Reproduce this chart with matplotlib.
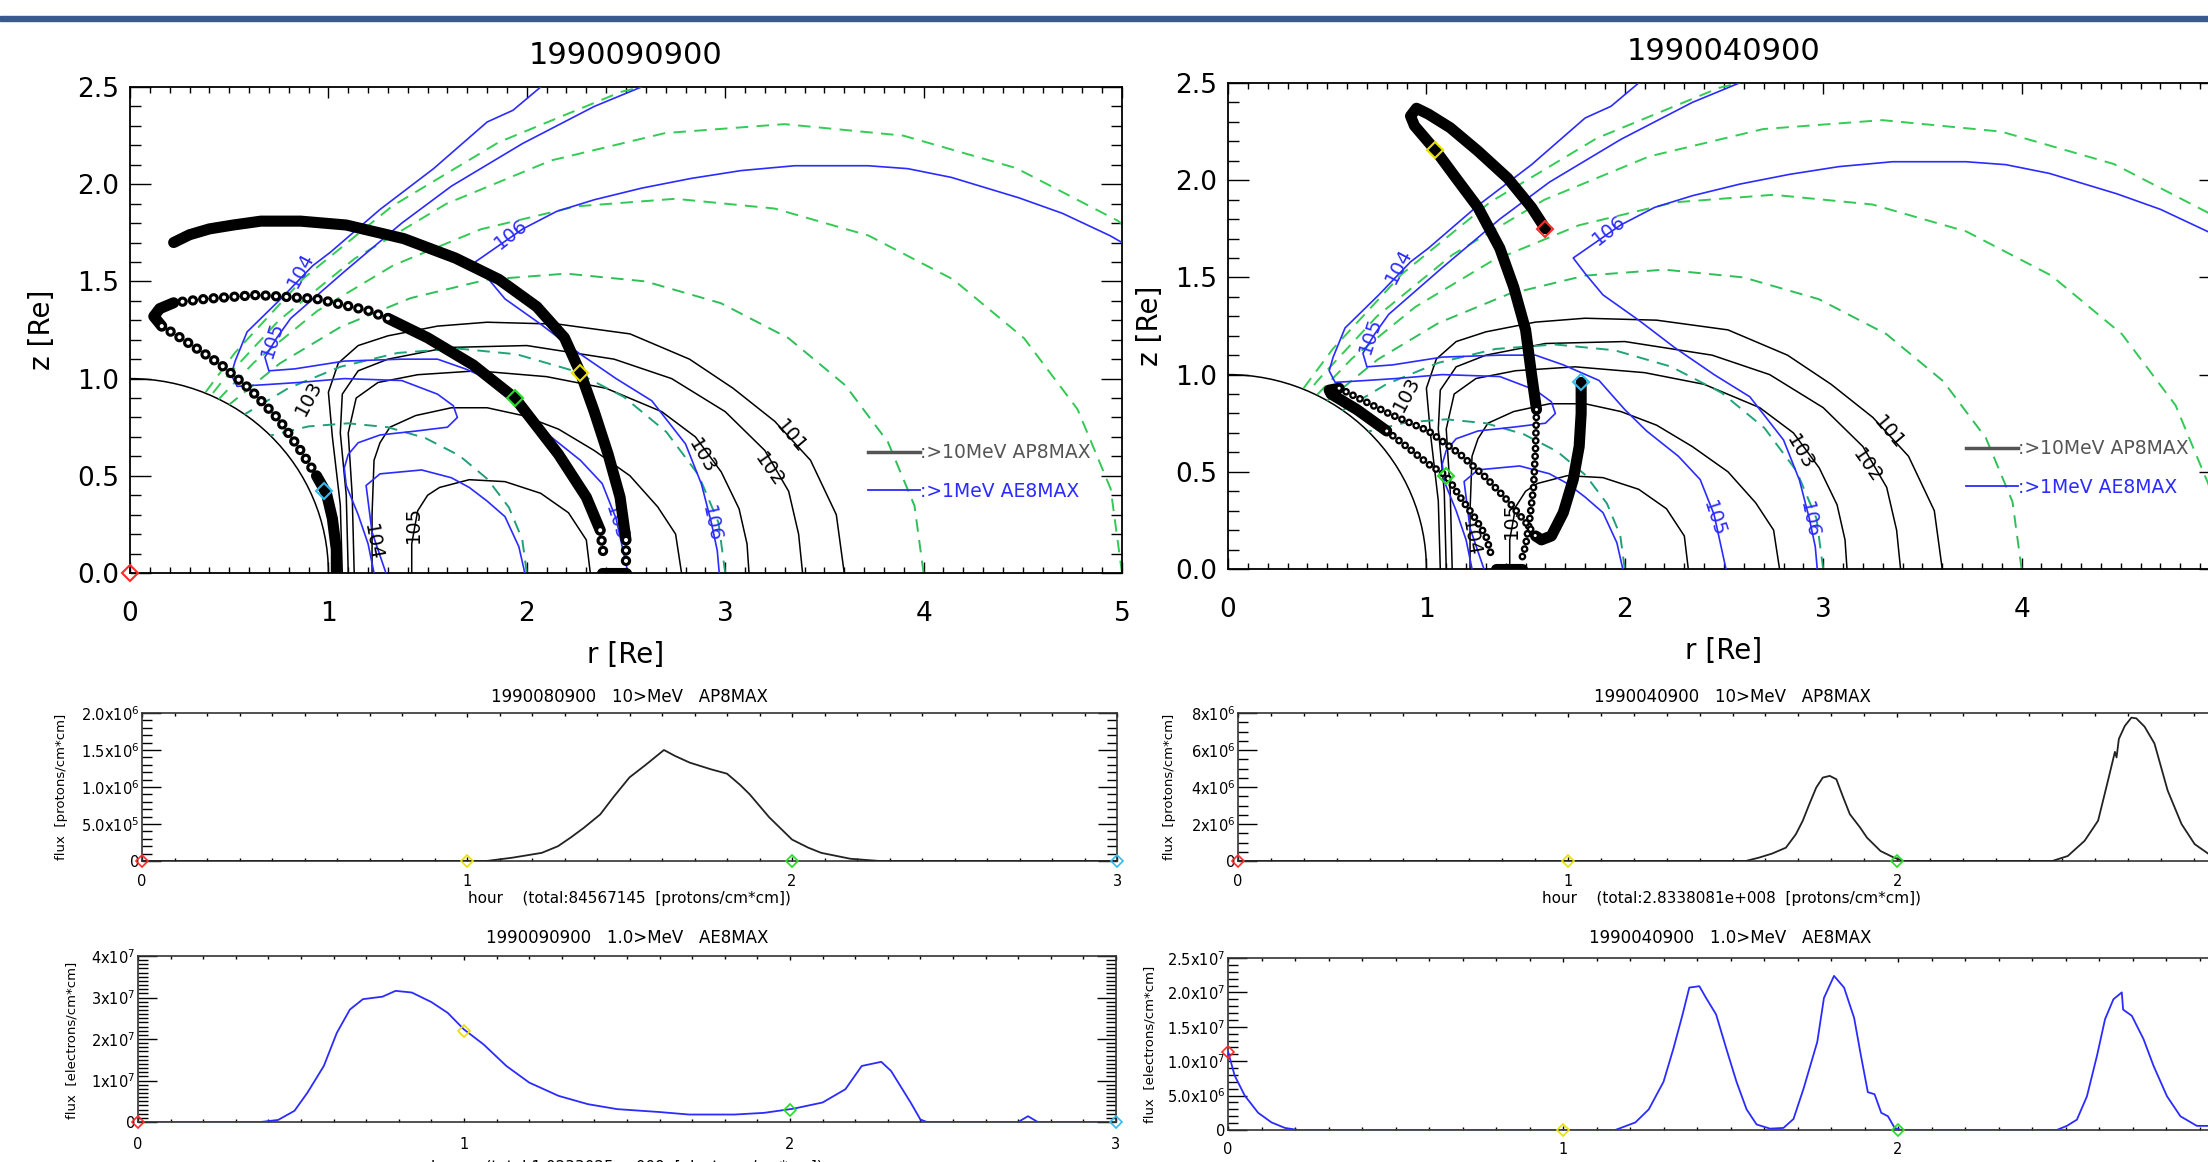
import matplotlib
matplotlib.use("Agg")
import matplotlib.pyplot as plt
from matplotlib.lines import Line2D
from matplotlib.patches import Arc, Rectangle
from matplotlib.ticker import MultipleLocator, FormatStrFormatter

W, H = 2208, 1162
plt.rcParams['font.family'] = ['DejaVu Sans']
plt.rcParams['lines.scale_dashes'] = False

# ---------------- orbit plane panels (r, z in Re) ----------------
title_a = "1990090900"
title_b = "1990040900"

# AP8MAX >10MeV proton flux contours
ap8_101 = [(1.07, 0.0), (1.06, 0.35), (1.02, 0.7), (1.0, 0.93), (1.05, 1.08), (1.15, 1.17), (1.3, 1.22),
           (1.55, 1.27), (1.8, 1.29), (2.16, 1.28), (2.52, 1.23), (2.82, 1.1), (3.04, 0.95), (3.25, 0.78),
           (3.43, 0.58), (3.56, 0.3), (3.6, 0.0)]
ap8_102 = [(1.1, 0.0), (1.09, 0.4), (1.06, 0.72), (1.07, 0.92), (1.15, 1.04), (1.3, 1.1), (1.6, 1.16),
           (2.0, 1.17), (2.44, 1.1), (2.73, 1.0), (3.0, 0.83), (3.2, 0.63), (3.32, 0.42), (3.37, 0.2), (3.39, 0.0)]
ap8_103 = [(1.13, 0.0), (1.12, 0.4), (1.1, 0.72), (1.14, 0.9), (1.25, 0.98), (1.45, 1.02), (1.75, 1.04),
           (2.1, 1.01), (2.4, 0.95), (2.68, 0.83), (2.85, 0.7), (2.98, 0.52), (3.07, 0.33), (3.11, 0.15), (3.12, 0.0)]
ap8_104 = [(1.22, 0.0), (1.22, 0.3), (1.23, 0.58), (1.26, 0.67), (1.31, 0.75), (1.44, 0.81), (1.62, 0.85),
           (1.8, 0.85), (1.98, 0.81), (2.16, 0.74), (2.34, 0.63), (2.52, 0.5), (2.66, 0.34), (2.75, 0.2), (2.78, 0.0)]
ap8_105 = [(1.42, 0.0), (1.42, 0.15), (1.45, 0.32), (1.5, 0.4), (1.56, 0.44), (1.71, 0.48), (1.89, 0.47),
           (2.07, 0.41), (2.21, 0.31), (2.3, 0.17), (2.32, 0.0)]

# AE8MAX >1MeV electron flux contours
ae8_104 = [(2.14, 2.56), (1.93, 2.38), (1.8, 2.32), (1.53, 2.08), (1.26, 1.87), (1.01, 1.65), (0.92, 1.58),
           (0.76, 1.41), (0.59, 1.24), (0.53, 1.09), (0.51, 1.02), (0.54, 0.96), (0.7, 0.97), (0.85, 0.98),
           (1.08, 1.0), (1.37, 0.99), (1.55, 0.92), (1.63, 0.86), (1.65, 0.8), (1.6, 0.75), (1.44, 0.73),
           (1.26, 0.71), (1.15, 0.67), (1.1, 0.61), (1.08, 0.54), (1.09, 0.45), (1.15, 0.3), (1.2, 0.15), (1.23, 0.0)]
ae8_105 = [(2.72, 2.56), (2.34, 2.4), (1.98, 2.21), (1.62, 1.99), (1.37, 1.8), (1.08, 1.55), (0.81, 1.31),
           (0.74, 1.21), (0.68, 1.11), (0.7, 1.04), (0.83, 1.05), (1.08, 1.09), (1.37, 1.1), (1.55, 1.1),
           (1.69, 1.05), (1.87, 0.97), (2.0, 0.82), (2.11, 0.71), (2.27, 0.58), (2.38, 0.46), (2.45, 0.28), (2.51, 0.0)]
ae8_106 = [(5.0, 1.7), (4.94, 1.735), (4.7, 1.85), (4.48, 1.93), (4.14, 2.035), (3.92, 2.08), (3.72, 2.095),
           (3.35, 2.095), (3.08, 2.07), (2.83, 2.03), (2.58, 1.98), (2.34, 1.92), (2.15, 1.86), (1.98, 1.77),
           (1.74, 1.6), (1.8, 1.52), (1.89, 1.41), (2.07, 1.28), (2.25, 1.14), (2.45, 1.0), (2.63, 0.886),
           (2.8, 0.664), (2.88, 0.458), (2.93, 0.26), (2.96, 0.115), (2.97, 0.0)]
ae8_105_inner = [(1.29, 0.0), (1.22, 0.21), (1.19, 0.45), (1.26, 0.51), (1.47, 0.53), (1.62, 0.49),
                 (1.71, 0.44), (1.8, 0.37), (1.89, 0.29), (1.96, 0.135), (1.99, 0.0)]

# dipole field lines (green dashed), L = 2 ... 7
dip_L2 = [(2.0, 0.0), (1.977, 0.173), (1.91, 0.337), (1.802, 0.483), (1.66, 0.604), (1.489, 0.694),
          (1.299, 0.75), (1.099, 0.77), (0.899, 0.754), (0.707, 0.707)]
dip_L3 = [(3.0, 0.0), (2.966, 0.26), (2.865, 0.505), (2.704, 0.725), (2.489, 0.906), (2.233, 1.041),
          (1.949, 1.125), (1.649, 1.155), (1.349, 1.132), (1.061, 1.061), (0.797, 0.95), (0.577, 0.816)]
dip_L4 = [(4.0, 0.0), (3.954, 0.346), (3.82, 0.674), (3.605, 0.966), (3.319, 1.208), (2.978, 1.388),
          (2.598, 1.5), (2.199, 1.54), (1.798, 1.509), (1.414, 1.414), (1.062, 1.266), (0.755, 1.078), (0.5, 0.866)]
dip_L5 = [(5.0, 0.0), (4.943, 0.433), (4.776, 0.842), (4.506, 1.208), (4.149, 1.51), (3.722, 1.736),
          (3.248, 1.875), (2.749, 1.925), (2.248, 1.886), (1.768, 1.768), (1.328, 1.583), (0.944, 1.348),
          (0.625, 1.083), (0.447, 0.894)]
dip_L6 = [(5.932, 0.519), (5.731, 1.01), (5.407, 1.449), (4.979, 1.812), (4.466, 2.083), (3.897, 2.25),
          (3.298, 2.309), (2.697, 2.263), (2.122, 2.122), (1.594, 1.899), (1.132, 1.617), (0.75, 1.299),
          (0.453, 0.971), (0.408, 0.913)]
dip_L7 = [(3.147, 2.64), (2.475, 2.475), (1.859, 2.216), (1.321, 1.887), (0.875, 1.516), (0.529, 1.133), (0.378, 0.926)]

# satellite track, 1990090900 (dense = slow part, sparse = open circles)
track_a_dense = [
    [(0.22, 1.70), (0.30, 1.74), (0.40, 1.77), (0.52, 1.79), (0.66, 1.81), (0.86, 1.81), (1.09, 1.79),
     (1.38, 1.72), (1.64, 1.62), (1.86, 1.51), (2.05, 1.37), (2.19, 1.21), (2.27, 1.03), (2.34, 0.83),
     (2.41, 0.61), (2.47, 0.39), (2.50, 0.17)],
    [(1.30, 1.31), (1.50, 1.21), (1.73, 1.07), (1.94, 0.90), (2.16, 0.61), (2.30, 0.39), (2.37, 0.22)],
    [(0.22, 1.39), (0.15, 1.36), (0.12, 1.32), (0.16, 1.27)],
    [(0.94, 0.50), (0.99, 0.41), (1.02, 0.28), (1.04, 0.12), (1.04, 0.01)],
    [(2.38, 0.0), (2.50, 0.0)],
]
track_a_sparse = [
    [(1.30, 1.31), (1.20, 1.35), (0.94, 1.41), (0.64, 1.43), (0.38, 1.41), (0.22, 1.39)],
    [(0.16, 1.27), (0.27, 1.20), (0.46, 1.07), (0.61, 0.94), (0.75, 0.79), (0.86, 0.63), (0.94, 0.50)],
    [(2.37, 0.22), (2.39, 0.07)],
    [(2.50, 0.17), (2.50, 0.05)],
]
hour_marks_a = [(0.0, 0.0), (2.27, 1.03), (1.94, 0.90), (0.98, 0.42)]

# satellite track, 1990040900
track_b_dense = [
    [(1.60, 1.75), (1.53, 1.86), (1.41, 2.01), (1.26, 2.15), (1.12, 2.27), (1.01, 2.34), (0.95, 2.37),
     (0.92, 2.33), (0.94, 2.28), (1.045, 2.155), (1.15, 2.01), (1.26, 1.86), (1.37, 1.65), (1.44, 1.45),
     (1.50, 1.23), (1.53, 1.00), (1.555, 0.82)],
    [(1.55, 0.17), (1.58, 0.15), (1.63, 0.17), (1.69, 0.29), (1.74, 0.46), (1.77, 0.63), (1.78, 0.80), (1.78, 0.96)],
    [(0.56, 0.93), (0.51, 0.92), (0.52, 0.90), (0.65, 0.82), (0.80, 0.71)],
    [(1.35, 0.0), (1.48, 0.0)],
]
track_b_sparse = [
    [(1.555, 0.82), (1.55, 0.62), (1.54, 0.42), (1.52, 0.25), (1.50, 0.12), (1.48, 0.05)],
    [(0.56, 0.93), (0.81, 0.80), (1.01, 0.71), (1.17, 0.59), (1.30, 0.47), (1.42, 0.34), (1.50, 0.24), (1.55, 0.17)],
    [(0.80, 0.71), (0.90, 0.63), (1.01, 0.54), (1.10, 0.48), (1.17, 0.37), (1.24, 0.27), (1.30, 0.17), (1.33, 0.06)],
]
hour_marks_b = [(1.60, 1.75), (1.045, 2.155), (1.10, 0.48), (1.78, 0.96)]

# ---------------- flux along the track ----------------
ap8_a_hour = [0, 1.06, 1.14, 1.23, 1.28, 1.32, 1.36, 1.41, 1.45, 1.50, 1.55, 1.606, 1.64, 1.685, 1.75,
              1.80, 1.84, 1.87, 1.93, 2.00, 2.05, 2.09, 2.18, 2.27, 3.0]
ap8_a_flux = [0, 0, 0.045e6, 0.11e6, 0.2e6, 0.32e6, 0.45e6, 0.63e6, 0.86e6, 1.13e6, 1.3e6, 1.5e6, 1.42e6,
              1.33e6, 1.24e6, 1.18e6, 1.03e6, 0.9e6, 0.59e6, 0.29e6, 0.18e6, 0.11e6, 0.03e6, 0, 0]
ap8_a_marks = [0, 0, 0, 0]

ae8_a_hour = [0, 0.376, 0.43, 0.48, 0.52, 0.57, 0.61, 0.65, 0.69, 0.75, 0.79, 0.84, 0.9, 0.95, 1.0, 1.06,
              1.13, 1.2, 1.29, 1.38, 1.47, 1.6, 1.69, 1.83, 1.92, 2.01, 2.1, 2.17, 2.22, 2.28, 2.31, 2.37,
              2.4, 2.42, 2.70, 2.73, 2.76, 3.0]
ae8_a_flux = [0, 0, 0.05e7, 0.27e7, 0.71e7, 1.35e7, 2.15e7, 2.71e7, 2.96e7, 3.02e7, 3.16e7, 3.12e7, 2.89e7,
              2.63e7, 2.23e7, 1.87e7, 1.35e7, 0.95e7, 0.63e7, 0.43e7, 0.31e7, 0.24e7, 0.18e7, 0.18e7,
              0.22e7, 0.32e7, 0.47e7, 0.79e7, 1.35e7, 1.45e7, 1.23e7, 0.47e7, 0.06e7, 0, 0, 0.14e7, 0, 0]
ae8_a_marks = [0, 2.2e7, 0.3e7, 0]

ap8_b_hour = [0, 1.54, 1.58, 1.62, 1.662, 1.692, 1.713, 1.733, 1.754, 1.774, 1.795, 1.815, 1.836, 1.856,
              1.887, 1.908, 1.949, 1.99, 2.02, 2.47, 2.517, 2.568, 2.609, 2.639, 2.66, 2.665, 2.672, 2.69,
              2.71, 2.725, 2.75, 2.78, 2.82, 2.862, 2.902, 2.946, 2.98, 3.0]
ap8_b_flux = [0, 0, 0.18e6, 0.4e6, 0.72e6, 1.44e6, 2.17e6, 3.07e6, 3.97e6, 4.51e6, 4.6e6, 4.42e6, 3.43e6,
              2.53e6, 1.81e6, 1.26e6, 0.54e6, 0.18e6, 0, 0, 0.27e6, 1.09e6, 2.18e6, 4.35e6, 5.9e6, 5.6e6,
              6.6e6, 7.3e6, 7.75e6, 7.71e6, 7.26e6, 6.35e6, 3.81e6, 2.0e6, 0.91e6, 0.36e6, 0.15e6, 0.1e6]
ap8_b_marks = [0, 0, 0, 0.1e6]

ae8_b_hour = [0, 0.02, 0.05, 0.09, 0.13, 0.17, 0.21, 1.156, 1.216, 1.256, 1.3, 1.33, 1.357, 1.377, 1.407,
              1.427, 1.457, 1.487, 1.518, 1.548, 1.578, 1.618, 1.658, 1.688, 1.718, 1.759, 1.779, 1.809,
              1.839, 1.869, 1.889, 1.91, 1.93, 1.95, 1.97, 1.99, 2.01, 2.474, 2.504, 2.534, 2.564, 2.594,
              2.618, 2.643, 2.668, 2.672, 2.698, 2.733, 2.763, 2.803, 2.843, 2.892, 2.93, 3.0]
ae8_b_flux = [1.14e7, 0.79e7, 0.5e7, 0.25e7, 0.11e7, 0.03e7, 0, 0, 0.11e7, 0.3e7, 0.7e7, 1.19e7, 1.68e7,
              2.07e7, 2.09e7, 1.92e7, 1.68e7, 1.19e7, 0.7e7, 0.3e7, 0.08e7, 0.02e7, 0.03e7, 0.16e7, 0.6e7,
              1.28e7, 1.92e7, 2.24e7, 2.07e7, 1.63e7, 1.09e7, 0.55e7, 0.52e7, 0.25e7, 0.2e7, 0.03e7, 0, 0,
              0.06e7, 0.15e7, 0.49e7, 1.08e7, 1.61e7, 1.9e7, 2.0e7, 1.75e7, 1.66e7, 1.32e7, 0.93e7, 0.49e7,
              0.2e7, 0.06e7, 0.06e7, 0.05e7]
ae8_b_marks = [1.13e7, 0, 0, 0.05e7]

hour_ticks = [0, 1, 2, 3]
ap8_a_yticks = [0, 0.5e6, 1.0e6, 1.5e6, 2.0e6]
ap8_a_ylabels = ['0', '5.0x10$^{5}$', '1.0x10$^{6}$', '1.5x10$^{6}$', '2.0x10$^{6}$']
ae8_a_yticks = [0, 1e7, 2e7, 3e7, 4e7]
ae8_a_ylabels = ['0', '1x10$^{7}$', '2x10$^{7}$', '3x10$^{7}$', '4x10$^{7}$']
ap8_b_yticks = [0, 2e6, 4e6, 6e6, 8e6]
ap8_b_ylabels = ['0', '2x10$^{6}$', '4x10$^{6}$', '6x10$^{6}$', '8x10$^{6}$']
ae8_b_yticks = [0, 0.5e7, 1.0e7, 1.5e7, 2.0e7, 2.5e7]
ae8_b_ylabels = ['0', '5.0x10$^{6}$', '1.0x10$^{7}$', '1.5x10$^{7}$', '2.0x10$^{7}$', '2.5x10$^{7}$']

mark_colors = ['#ff2a2a', '#e8e000', '#22dd22', '#33bbee']
BLUE = '#2b2bff'


def box(x0, y0, x1, y1):
    return [x0 / W, 1 - y1 / H, (x1 - x0) / W, (y1 - y0) / H]


def xy(points):
    return [p[0] for p in points], [p[1] for p in points]


def orbit_panel(ax, dense, sparse, marks, ring, xlabels):
    ax.set_xlim(0, 5)
    ax.set_ylim(0, 2.5)
    ax.add_patch(Arc((0, 0), 2, 2, theta1=0, theta2=90, color='black', lw=1.1, zorder=2))
    for c in [ap8_101, ap8_102, ap8_103, ap8_104, ap8_105]:
        ax.plot(*xy(c), color='black', lw=1.1, zorder=2)
    for c in [ae8_104, ae8_105, ae8_106, ae8_105_inner]:
        ax.plot(*xy(c), color=BLUE, lw=1.2, zorder=3)
    for c, col in [(dip_L2, '#1f9f7a'), (dip_L3, '#1fa57a'), (dip_L4, '#2fbf5a'),
                   (dip_L5, '#33c955'), (dip_L6, '#33cc55'), (dip_L7, '#33cc55')]:
        ax.plot(*xy(c), color=col, lw=1.4, ls=(0, (9, 6)), zorder=2)

    for txt, r, z, rot in [('101', 3.33, 0.70, -50), ('102', 3.22, 0.53, -55), ('103', 2.88, 0.60, -60),
                           ('105', 1.43, 0.25, 90), ('104', 1.22, 0.16, -80), ('103', 0.9, 0.9, 62)]:
        ax.text(r, z, txt, rotation=rot, fontsize=14, ha='center', va='center', zorder=4)
    for txt, r, z, rot in [('104', 0.86, 1.56, 62), ('105', 0.72, 1.20, 72), ('106', 1.92, 1.74, 38),
                           ('105', 2.45, 0.26, -72), ('106', 2.93, 0.25, -78)]:
        ax.text(r, z, txt, rotation=rot, fontsize=14, color=BLUE, ha='center', va='center', zorder=4)

    for seg in dense:
        ax.plot(*xy(seg), color='black', lw=8, solid_capstyle='round', solid_joinstyle='round', zorder=5)
    for seg in sparse:
        r, z = xy(seg)
        ax.plot(r, z, color='black', lw=ring, ls=(0, (0.01, ring * 1.0)), dash_capstyle='round', zorder=5)
        ax.plot(r, z, color='white', lw=ring * 0.4, ls=(0, (0.01, ring * 1.0)), dash_capstyle='round', zorder=5)
    for (r, z), col in zip(marks, mark_colors):
        ax.plot([r], [z], marker='D', ms=8, mfc='none', mec=col, mew=1.5, ls='none', zorder=7, clip_on=False)

    handles = [Line2D([], [], color='#555555', lw=2.5), Line2D([], [], color=BLUE, lw=1.3)]
    ax.legend(handles, [':>10MeV AP8MAX', ':>1MeV AE8MAX'], loc='center left', bbox_to_anchor=(0.744, 0.208),
              frameon=False, fontsize=13.5, handlelength=2.75, handletextpad=0.0, labelspacing=1.05,
              borderpad=0, borderaxespad=0, labelcolor=['#555555', BLUE])

    ax.set_xticks([0, 1, 2, 3, 4, 5])
    ax.set_xticklabels(xlabels)
    ax.set_yticks([0, 0.5, 1.0, 1.5, 2.0, 2.5])
    ax.yaxis.set_major_formatter(FormatStrFormatter('%.1f'))
    ax.xaxis.set_minor_locator(MultipleLocator(0.1))
    ax.yaxis.set_minor_locator(MultipleLocator(0.1))
    ax.tick_params(which='both', direction='in', top=True, right=True, width=1.0, labelsize=19)
    ax.tick_params(axis='x', which='major', length=8, pad=20)
    ax.tick_params(axis='x', which='minor', length=4)
    ax.tick_params(axis='y', which='major', length=15, pad=8)
    ax.tick_params(axis='y', which='minor', length=8)
    for s in ax.spines.values():
        s.set_linewidth(1.3)


def flux_panel(ax, hours, flux, color, yticks, ylabels, yminor, marks, xpad, xlabels):
    ax.plot(hours, flux, color=color, lw=1.3, zorder=3)
    ax.set_xlim(0, 3)
    ax.set_ylim(0, yticks[-1])
    ax.set_xticks(hour_ticks)
    ax.set_xticklabels(xlabels)
    ax.set_yticks(yticks)
    ax.set_yticklabels(ylabels)
    ax.xaxis.set_minor_locator(MultipleLocator(0.1))
    ax.yaxis.set_minor_locator(MultipleLocator(yminor))
    ax.tick_params(which='both', direction='in', top=True, right=True, width=1.0, labelsize=10.5)
    ax.tick_params(axis='x', which='major', length=3, pad=xpad)
    ax.tick_params(axis='x', which='minor', length=2)
    ax.tick_params(axis='y', which='major', length=14, pad=2)
    ax.tick_params(axis='y', which='minor', length=7)
    for s in ax.spines.values():
        s.set_linewidth(1.2)
        s.set_color('#333333')
    for h, v, col in zip(hour_ticks, marks, mark_colors):
        ax.plot([h], [v], marker='D', ms=6, mfc='none', mec=col, mew=1.2, ls='none', zorder=6, clip_on=False)


fig = plt.figure(figsize=(W / 100, H / 100), dpi=100)
fig.add_artist(Rectangle((0, 1 - 21 / H), 1, 5 / H, transform=fig.transFigure, color='#3a5a8c'))

# right-hand panels run past the picture's edge, so their last tick label is not shown
ax_a = fig.add_axes(box(130, 87, 1122, 573))
orbit_panel(ax_a, track_a_dense, track_a_sparse, hour_marks_a, 7.5, ['0', '1', '2', '3', '4', '5'])
ax_b = fig.add_axes(box(1228, 83, 2220, 569))
orbit_panel(ax_b, track_b_dense, track_b_sparse, hour_marks_b, 5.6, ['0', '1', '2', '3', '4', ''])

fig.text(626 / W, 1 - 56 / H, title_a, fontsize=22, ha='center', va='center')
fig.text(1724 / W, 1 - 51 / H, title_b, fontsize=22, ha='center', va='center')
fig.text(626 / W, 1 - 655 / H, 'r [Re]', fontsize=20, ha='center', va='center')
fig.text(1724 / W, 1 - 651 / H, 'r [Re]', fontsize=20, ha='center', va='center')
fig.text(42 / W, 1 - 330 / H, 'z [Re]', fontsize=20, rotation=90, ha='center', va='center')
fig.text(1150 / W, 1 - 326 / H, 'z [Re]', fontsize=20, rotation=90, ha='center', va='center')

ax_c = fig.add_axes(box(142, 713, 1117, 861))
flux_panel(ax_c, ap8_a_hour, ap8_a_flux, '#222222', ap8_a_yticks, ap8_a_ylabels, 1e5, ap8_a_marks, 9,
           ['0', '1', '2', '3'])
ax_d = fig.add_axes(box(1238, 713, 2227, 861))
flux_panel(ax_d, ap8_b_hour, ap8_b_flux, '#222222', ap8_b_yticks, ap8_b_ylabels, 5e5, ap8_b_marks, 9,
           ['0', '1', '2', ''])
ax_e = fig.add_axes(box(138, 956, 1116, 1122))
flux_panel(ax_e, ae8_a_hour, ae8_a_flux, BLUE, ae8_a_yticks, ae8_a_ylabels, 1e6, ae8_a_marks, 11,
           ['0', '1', '2', '3'])
ax_f = fig.add_axes(box(1228, 958, 2233, 1130))
flux_panel(ax_f, ae8_b_hour, ae8_b_flux, BLUE, ae8_b_yticks, ae8_b_ylabels, 1e6, ae8_b_marks, 9,
           ['0', '1', '2', ''])

small = dict(fontsize=12, ha='center', va='center')
fig.text(629 / W, 1 - 697 / H, '1990080900   10>MeV   AP8MAX', **small)
fig.text(1732 / W, 1 - 697 / H, '1990040900   10>MeV   AP8MAX', **small)
fig.text(627 / W, 1 - 938 / H, '1990090900   1.0>MeV   AE8MAX', **small)
fig.text(1730 / W, 1 - 938 / H, '1990040900   1.0>MeV   AE8MAX', **small)
fig.text(629 / W, 1 - 898 / H, 'hour    (total:84567145  [protons/cm*cm])', fontsize=11, ha='center', va='center')
fig.text(1732 / W, 1 - 898 / H, 'hour    (total:2.8338081e+008  [protons/cm*cm])', fontsize=11, ha='center', va='center')
fig.text(627 / W, 1 - 1167 / H, 'hour    (total:1.0233025e+009  [electrons/cm*cm])', fontsize=11, ha='center', va='center')
fig.text(62 / W, 1 - 787 / H, 'flux  [protons/cm*cm]', fontsize=9.5, rotation=90, ha='center', va='center')
fig.text(72 / W, 1 - 1040 / H, 'flux  [electrons/cm*cm]', fontsize=9.5, rotation=90, ha='center', va='center')
fig.text(1169 / W, 1 - 787 / H, 'flux  [protons/cm*cm]', fontsize=9.5, rotation=90, ha='center', va='center')
fig.text(1150 / W, 1 - 1044 / H, 'flux  [electrons/cm*cm]', fontsize=9.5, rotation=90, ha='center', va='center')

fig.savefig('out.png', dpi=100, facecolor='white')
